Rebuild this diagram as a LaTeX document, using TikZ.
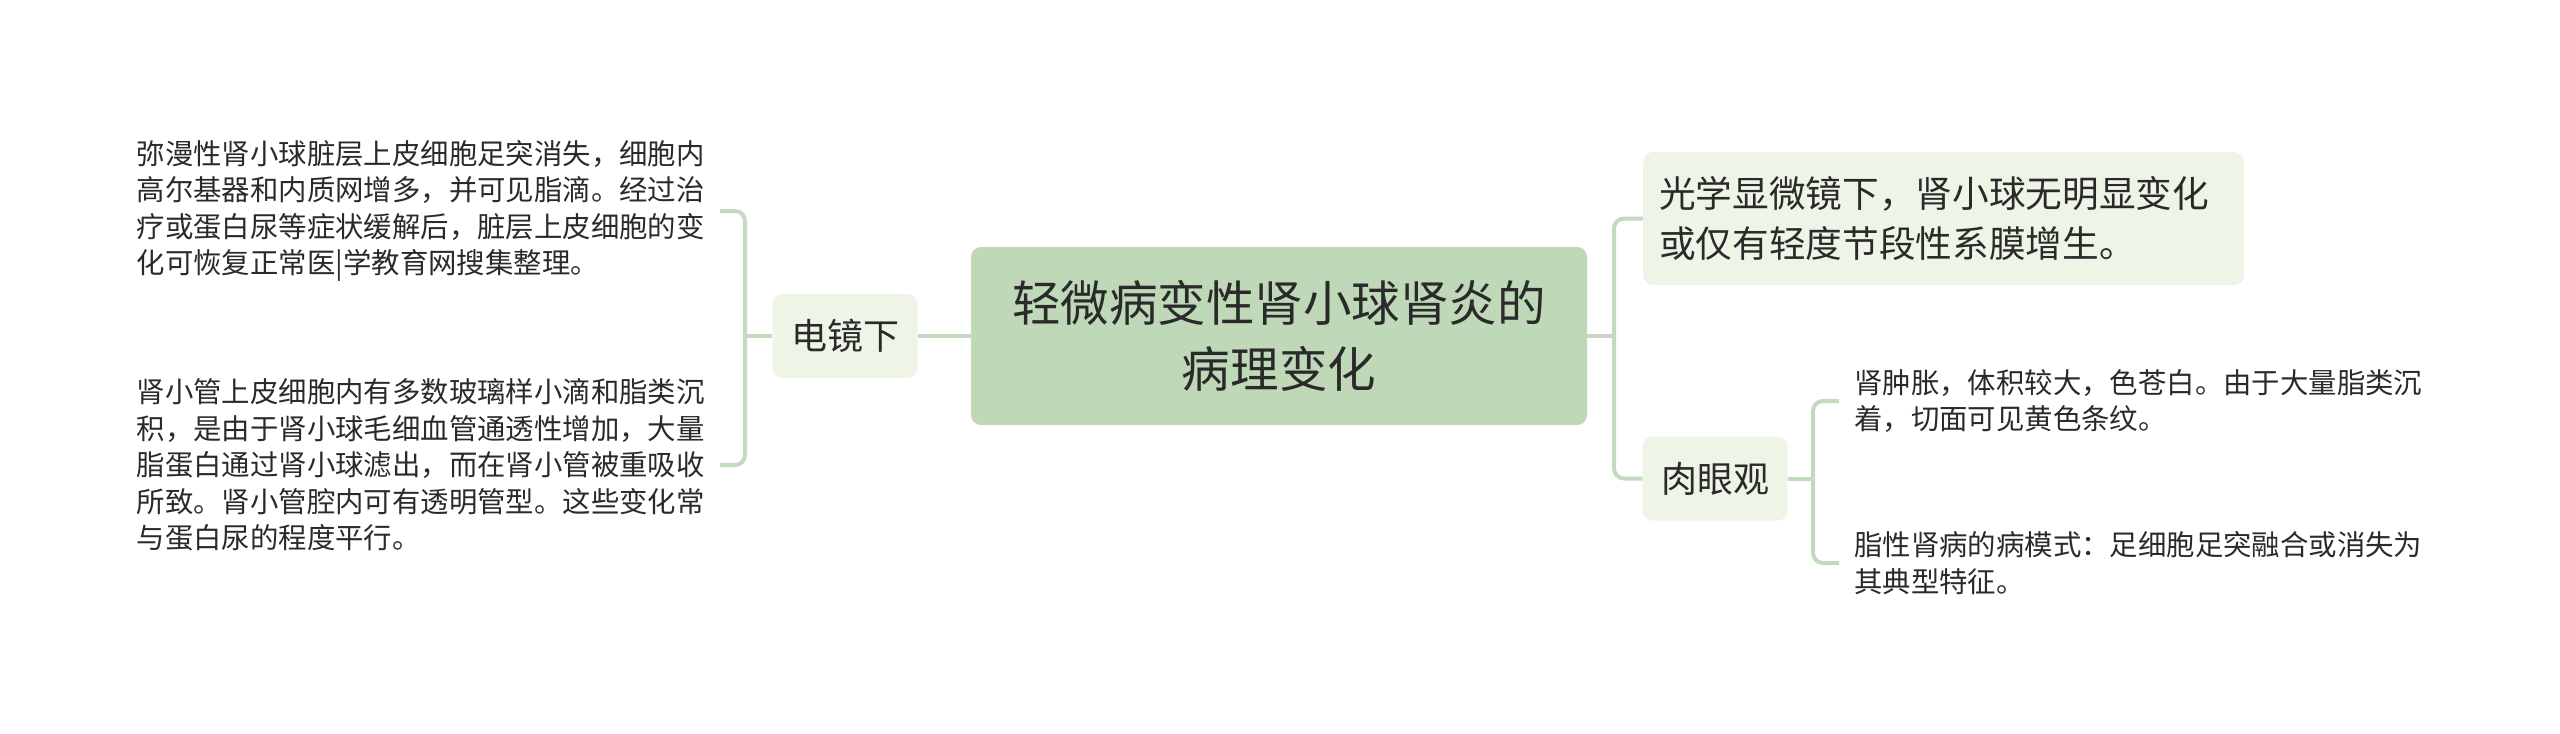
\documentclass[tikz,border=0pt]{standalone}
\usepackage{fontspec}
\setmainfont{Noto Sans CJK SC}
\definecolor{lnc}{HTML}{C3DABF}
\definecolor{cfill}{HTML}{BFD8B8}
\definecolor{lfill}{HTML}{EEF5E6}
\definecolor{txt}{HTML}{2A2A2A}
\tikzset{
  px/.style={x=0.75pt,y=-0.75pt},
  conn/.style={draw=lnc,line width=3pt,rounded corners=7.5pt},
  central/.style={fill=cfill,rounded corners=7.5pt,minimum width=462pt,minimum height=133.5pt,inner sep=0pt,align=center,text=txt,font=\fontsize{36.4}{50}\selectfont},
  topbox/.style={fill=lfill,rounded corners=7.5pt,minimum width=450.75pt,minimum height=99.75pt,text width=426.75pt,inner xsep=12pt,inner ysep=0pt,align=left,text=txt,font=\fontsize{27.5}{37}\selectfont},
  midbox/.style={fill=lfill,rounded corners=7.5pt,minimum width=108.75pt,minimum height=63pt,inner sep=0pt,align=center,text=txt,font=\fontsize{27}{32}\selectfont},
  leafL/.style={inner xsep=11.25pt,inner ysep=0pt,align=left,text=txt,font=\fontsize{21.3}{27.4}\selectfont},
}
\begin{document}
\begin{tikzpicture}[px]
\useasboundingbox (0,0) rectangle (2560,733);
\node[central] (c) at (1279,336) {轻微病变性肾小球肾炎的\\病理变化};
\node[midbox] (em) at (845,336) {电镜下};
\node[topbox] (lm) at (1943.5,218.5) {光学显微镜下，肾小球无明显变化\\或仅有轻度节段性系膜增生。};
\node[midbox] (ey) at (1715,478.5) {肉眼观};
\node[leafL,anchor=east] (l1) at (720,211) {弥漫性肾小球脏层上皮细胞足突消失，细胞内\\高尔基器和内质网增多，并可见脂滴。经过治\\疗或蛋白尿等症状缓解后，脏层上皮细胞的变\\化可恢复正常医|学教育网搜集整理。};
\node[leafL,anchor=east] (l2) at (720,465) {肾小管上皮细胞内有多数玻璃样小滴和脂类沉\\积，是由于肾小球毛细血管通透性增加，大量\\脂蛋白通过肾小球滤出，而在肾小管被重吸收\\所致。肾小管腔内可有透明管型。这些变化常\\与蛋白尿的程度平行。};
\node[leafL,anchor=west] (r1) at (1839,401) {肾肿胀，体积较大，色苍白。由于大量脂类沉\\着，切面可见黄色条纹。};
\node[leafL,anchor=west] (r2) at (1839,563) {脂性肾病的病模式：足细胞足突融合或消失为\\其典型特征。};
\coordinate (jr) at (1614,336);
\coordinate (jl) at (745,336);
\coordinate (je) at (1813,478.5);
\draw[conn] (c.east) -- (jr);
\draw[conn] (jr) |- (lm.west);
\draw[conn] (jr) |- (ey.west);
\draw[conn] (c.west) -- (em.east);
\draw[conn] (em.west) -- (jl);
\draw[conn] (jl) |- (l1.east);
\draw[conn] (jl) |- (l2.east);
\draw[conn] (ey.east) -- (je);
\draw[conn] (je) |- (r1.west);
\draw[conn] (je) |- (r2.west);
\end{tikzpicture}
\end{document}
